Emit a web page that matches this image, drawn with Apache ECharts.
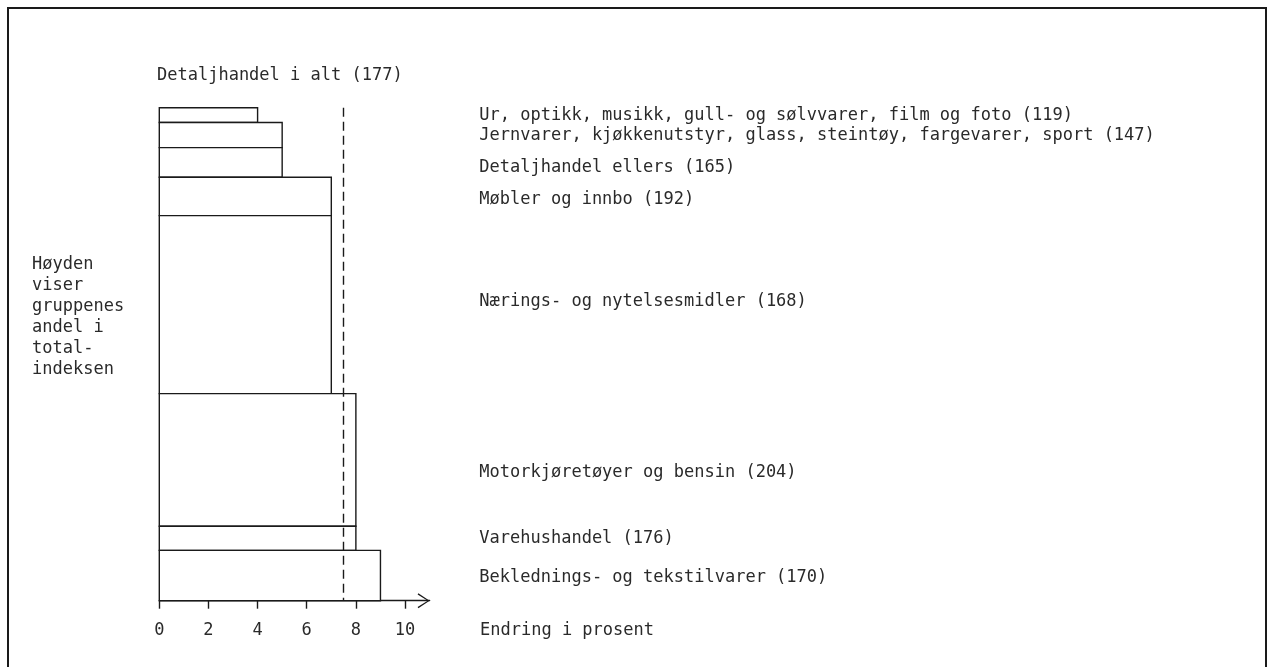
<!DOCTYPE html>
<html>
<head>
<meta charset="utf-8">
<title>Detaljhandel</title>
<script src="https://cdn.jsdelivr.net/npm/echarts@6/dist/echarts.min.js"></script>
<style>
  html, body { margin: 0; padding: 0; background: #fff; }
  #main { width: 1267px; height: 667px; }
</style>
</head>
<body>
<div id="main"></div>
<script>
// varegrupper ovenfra og ned
var categories = [
    'Ur, optikk, musikk, gull- og sølvvarer, film og foto (119)',
    'Jernvarer, kjøkkenutstyr, glass, steintøy, fargevarer, sport (147)',
    'Detaljhandel ellers (165)',
    'Møbler og innbo (192)',
    'Nærings- og nytelsesmidler (168)',
    'Motorkjøretøyer og bensin (204)',
    'Varehushandel (176)',
    'Beklednings- og tekstilvarer (170)'
];
// høyden: gruppenes andel i totalindeksen (prosent)
var shares = [3.0, 5.1, 6.0, 7.8, 36.1, 26.9, 4.9, 10.2];
// bredden: endring i prosent
var changes = [4, 5, 5, 7, 7, 8, 8, 9];
// detaljhandel i alt
var totalChange = 7.5;
var xTicks = [0, 2, 4, 6, 8, 10];

var FONT = '17px "DejaVu Sans Mono", "Liberation Mono", monospace';
var INK = '#1a1a1a';
var TXT = '#2a2a2a';
// small vertical nudges for the labels to the right (px)
var labelNudge = [0, 1, 5, 3, -3, 13, 0, 2];

var total = 0;
var blocks = [];
for (var i = 0; i < shares.length; i++) {
    blocks.push([total, total + shares[i], changes[i], i]);
    total += shares[i];
}

function renderItem(params, api) {
    var start = api.value(0), end = api.value(1), chg = api.value(2), idx = api.value(3);
    var p0 = api.coord([0, start]);
    var p1 = api.coord([chg, end]);
    return {
        type: 'group',
        children: [
            {
                type: 'rect',
                shape: {x: p0[0], y: p0[1], width: p1[0] - p0[0], height: p1[1] - p0[1]},
                style: {fill: '#fff', stroke: INK, lineWidth: 1.4}
            },
            {
                type: 'text',
                x: p0[0] + 320,
                y: (p0[1] + p1[1]) / 2 + labelNudge[idx],
                style: {text: categories[idx], font: FONT, fill: TXT, verticalAlign: 'middle', align: 'left'}
            }
        ]
    };
}

var option = {
    animation: false,
    backgroundColor: '#fff',
    grid: {left: 159.3, right: 837.4, top: 107.7, bottom: 66.3},
    xAxis: {
        type: 'value',
        min: 0,
        max: 11,
        axisLine: {
            show: true,
            onZero: false,
            symbol: ['none', 'path://M0,15 L10,0 L20,15 L18.4,16 L10,2.6 L1.6,16 Z'],
            symbolSize: [16, 12],
            symbolOffset: [0, -6],
            lineStyle: {color: INK, width: 1.4}
        },
        axisTick: {show: true, customValues: xTicks, length: 8, lineStyle: {color: INK, width: 1.4}},
        axisLabel: {customValues: xTicks, margin: 21, color: TXT, fontFamily: '"DejaVu Sans Mono", monospace', fontSize: 17},
        splitLine: {show: false}
    },
    yAxis: {
        type: 'value',
        inverse: true,
        min: 0,
        max: total,
        show: false
    },
    series: [
        {
            type: 'custom',
            renderItem: renderItem,
            data: blocks,
            z: 2
        },
        {
            type: 'line',
            data: [],
            z: 5,
            markLine: {
                silent: true,
                symbol: 'none',
                label: {show: false},
                lineStyle: {color: INK, type: [9, 5], width: 1.4},
                data: [{xAxis: totalChange}]
            }
        }
    ],
    graphic: [
        {
            type: 'rect',
            shape: {x: 8, y: 8, width: 1258, height: 700},
            style: {fill: 'none', stroke: INK, lineWidth: 2}
        },
        {
            type: 'text',
            x: 157, y: 76,
            style: {text: 'Detaljhandel i alt (177)', font: FONT, fill: TXT, verticalAlign: 'middle'}
        },
        {
            type: 'text',
            x: 32, y: 254,
            style: {
                text: 'Høyden\nviser\ngruppenes\nandel i\ntotal-\nindeksen',
                font: FONT, fill: TXT, lineHeight: 21, verticalAlign: 'top'
            }
        },
        {
            type: 'text',
            x: 480, y: 631,
            style: {text: 'Endring i prosent', font: FONT, fill: TXT, verticalAlign: 'middle'}
        }
    ]
};

var myChart = echarts.init(document.getElementById('main'));
myChart.setOption(option);
</script>
</body>
</html>
